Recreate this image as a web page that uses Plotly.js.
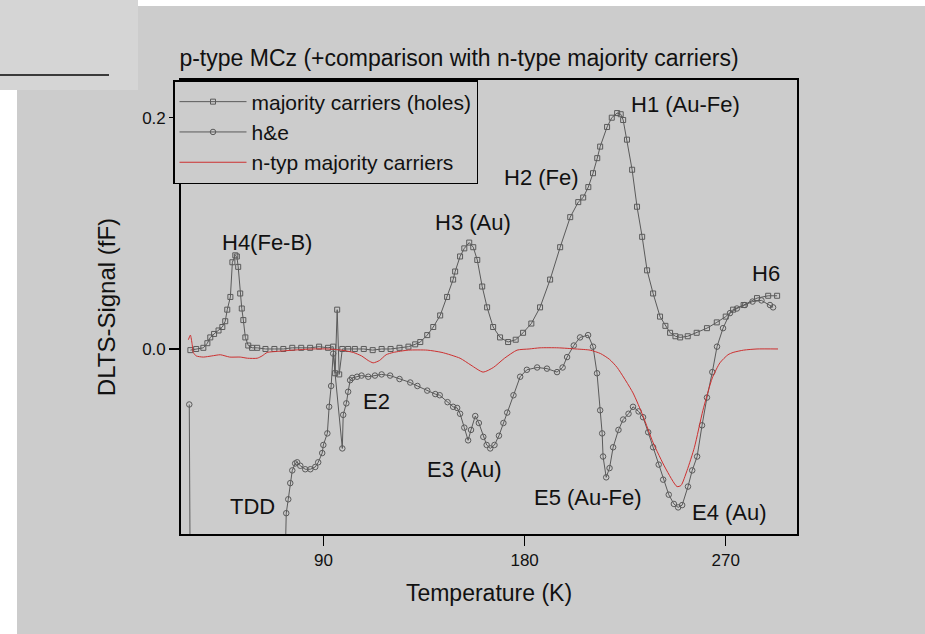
<!DOCTYPE html>
<html>
<head>
<meta charset="utf-8">
<script src="https://cdn.plot.ly/plotly-3.0.1.min.js"></script>
<style>html,body{margin:0;padding:0;background:#fff;}#chart{width:925px;height:634px;}</style>
</head>
<body>
<div id="chart"></div>
<script>
// Series: majority carriers (holes)
const holesT = [30.4,33,36.2,38,39.3,41,43,44.7,46,46.9,48.3,49.2,50.5,51.2,51.8,52.7,53.4,54.1,55.0,56.3,58,60.3,64,68,72,76,80,84,88,92,94.3,95.2,96.1,97.0,98.4,101,104,108,112,116,120,124,128,131,133.3,136.4,139.1,142.2,145.3,148.0,148.9,151.1,153,155.2,157,158.8,161.0,163.2,165.9,169,172.6,176,179.3,183,186.9,191.4,195.9,200.4,204,206.2,208.5,210.6,212.5,213.8,216.9,219,221.4,223,224.1,225.8,228.1,230.3,232.6,234.8,237.5,240.6,243,245.1,247.5,249.6,253,257,261.6,266,270,273.3,278,284.0,289,293.0];
const holesS = [-0.001,0.000,0.001,0.005,0.010,0.013,0.016,0.019,0.024,0.034,0.045,0.075,0.081,0.080,0.071,0.048,0.035,0.025,0.010,0.003,0.001,0.001,0.000,0.000,0.000,0.001,0.001,0.001,0.002,0.001,0.002,-0.021,0.034,-0.022,0.000,0.000,0.000,0.000,-0.001,0.000,0.000,0.001,0.002,0.004,0.006,0.012,0.019,0.029,0.045,0.060,0.067,0.080,0.087,0.092,0.088,0.077,0.054,0.036,0.019,0.010,0.006,0.008,0.014,0.022,0.036,0.060,0.088,0.114,0.127,0.131,0.140,0.152,0.165,0.175,0.192,0.200,0.204,0.203,0.198,0.181,0.155,0.123,0.097,0.068,0.048,0.028,0.020,0.014,0.011,0.010,0.011,0.014,0.018,0.023,0.028,0.034,0.038,0.044,0.046,0.046];

// Series: h&e
const heT = [29.9,30.6,72.4,73.3,74.2,75.1,76.0,77.3,78.2,79.6,81.8,84.1,86.3,87.6,89.4,89.9,91.7,92.5,93.4,94.3,98.4,98.8,100.2,101.0,101.9,102.8,105,107,110,113,116,119.8,124,128.8,132,136.4,140,142,145.5,148,149.8,151.1,153,154.7,156,157.9,159.5,161.5,163,164.6,166.5,168.5,170.5,172.2,175,178.0,181,185.6,190,194.5,197,199.0,202,204.8,208.4,210.6,212.4,213.8,214.7,215.1,216.5,218,219.6,222,224.1,226.5,228.5,231,233.0,235.3,237.5,240,242.0,244.5,246.8,248.7,250.5,253.1,255,257.2,259.4,261.6,264,266.1,268.8,271.9,275,278.6,282,286,289.8,291.2];
const heS = [-0.048,-0.30,-0.22,-0.142,-0.130,-0.116,-0.105,-0.099,-0.098,-0.101,-0.104,-0.104,-0.102,-0.098,-0.090,-0.083,-0.073,-0.050,-0.032,-0.004,-0.086,-0.057,-0.047,-0.037,-0.027,-0.025,-0.024,-0.023,-0.024,-0.023,-0.022,-0.023,-0.026,-0.029,-0.032,-0.036,-0.039,-0.040,-0.046,-0.050,-0.051,-0.056,-0.068,-0.079,-0.070,-0.058,-0.064,-0.076,-0.083,-0.086,-0.083,-0.075,-0.064,-0.055,-0.040,-0.024,-0.018,-0.016,-0.017,-0.020,-0.016,-0.007,0.003,0.010,0.012,0.002,-0.021,-0.053,-0.073,-0.093,-0.111,-0.103,-0.085,-0.070,-0.061,-0.056,-0.050,-0.054,-0.059,-0.072,-0.085,-0.100,-0.113,-0.126,-0.134,-0.137,-0.135,-0.119,-0.105,-0.093,-0.066,-0.042,-0.020,0.002,0.018,0.031,0.035,0.038,0.041,0.042,0.038,0.036];

// Series: n-typ majority carriers
const nT = [29.5,30.4,31.2,31.7,33,36.2,40,43.8,48,52.7,56,60.3,62.5,64.8,70,76.4,85,91.7,98,103.3,107,110,112.2,115,118,121.2,128,136.4,143,151.1,156,161.4,166,171,176.6,182,186.9,195,203,209.3,214,218,221.4,228.5,233,237.5,243,248.2,250,252.7,256,259.8,264,267.4,271,273.3,278,284,293.4];
const nS = [0.008,0.012,0.004,-0.003,-0.006,-0.007,-0.006,-0.005,-0.007,-0.007,-0.008,-0.008,-0.006,-0.003,-0.002,-0.001,0.000,0.000,-0.001,-0.003,-0.006,-0.010,-0.012,-0.010,-0.005,-0.003,-0.001,-0.001,-0.003,-0.008,-0.014,-0.020,-0.016,-0.008,-0.001,0.000,0.001,0.001,0.000,-0.001,-0.004,-0.009,-0.016,-0.038,-0.058,-0.081,-0.103,-0.119,-0.118,-0.105,-0.085,-0.053,-0.025,-0.012,-0.005,-0.003,-0.001,0.000,0.000];

const seriesNames = ["majority carriers (holes)", "h&e", "n-typ majority carriers"];
const xTicks = [90, 180, 270];
const yTicks = [0.0, 0.2];
const yTickText = ["0.0", "0.2"];

const peakLabels = ["H4(Fe-B)", "H3 (Au)", "H2 (Fe)", "H1 (Au-Fe)", "H6", "E2", "E3 (Au)", "E5 (Au-Fe)", "E4 (Au)", "TDD"];
const peakLabelT = [64.6, 157.0, 187.4, 251.8, 288.0, 113.6, 153.0, 208.4, 271.9, 58.3];
const peakLabelS = [0.0917, 0.1098, 0.1479, 0.2110, 0.0657, -0.0458, -0.1038, -0.1280, -0.1418, -0.1366];

const FONT = "Liberation Sans, Arial, Helvetica, sans-serif";
const grey = "#5a5a5a";

const traces = [
  {x: holesT, y: holesS, name: seriesNames[0], type: "scatter", mode: "lines+markers",
   line: {color: grey, width: 1},
   marker: {symbol: "square-open", size: 5, color: grey, line: {color: grey, width: 1}}},
  {x: heT, y: heS, name: seriesNames[1], type: "scatter", mode: "lines+markers",
   line: {color: grey, width: 1},
   marker: {symbol: "circle-open", size: 5.5, color: grey, line: {color: grey, width: 1}}},
  {x: nT, y: nS, name: seriesNames[2], type: "scatter", mode: "lines",
   line: {color: "#cc3030", width: 1, shape: "spline", smoothing: 0.6}}
];

const annotations = peakLabels.map((t, i) => ({
  text: t, x: peakLabelT[i], y: peakLabelS[i], xref: "x", yref: "y",
  showarrow: false, xanchor: "center", yanchor: "middle",
  font: {family: FONT, size: 22, color: "#111"}
}));

const W = 616, H = 454, L = 181, T = 80;
const px = v => (v - L) / W;
const py = v => (T + H - v) / H;

const shapes = [
  {type: "rect", xref: "paper", yref: "paper", x0: px(0), x1: px(925), y0: py(6), y1: py(0), fillcolor: "#ffffff", line: {width: 0}, layer: "below"},
  {type: "rect", xref: "paper", yref: "paper", x0: px(0), x1: px(17), y0: py(634), y1: py(0), fillcolor: "#ffffff", line: {width: 0}, layer: "below"},
  {type: "rect", xref: "paper", yref: "paper", x0: px(0), x1: px(138), y0: py(90), y1: py(0), fillcolor: "#d5d5d5", line: {width: 0}, layer: "below"},
  {type: "line", xref: "paper", yref: "paper", x0: px(0), x1: px(109), y0: py(75), y1: py(75), line: {color: "#3a3a3a", width: 2}, layer: "below"}
];

const layout = {
  width: 925, height: 634,
  margin: {l: L, r: 925 - L - W, t: T, b: 634 - T - H, pad: 0},
  paper_bgcolor: "#cccccc", plot_bgcolor: "#cccccc",
  font: {family: FONT, color: "#111"},
  title: {text: "p-type MCz (+comparison with n-type majority carriers)",
          font: {family: FONT, size: 23, color: "#111"},
          xref: "paper", x: px(459), xanchor: "center",
          yref: "container", y: 1 - 58 / 634, yanchor: "middle"},
  xaxis: {range: [26.2, 301.9], tickvals: xTicks, ticktext: xTicks.map(String),
          showgrid: false, zeroline: false, showline: true, mirror: true,
          linecolor: "#000", linewidth: 1.8, ticks: "outside", ticklen: 10, tickwidth: 1.5, tickcolor: "#000",
          tickfont: {family: FONT, size: 17, color: "#111"},
          title: {text: "Temperature (K)", font: {family: FONT, size: 23, color: "#111"}, standoff: 16}},
  yaxis: {range: [-0.16, 0.2326], tickvals: yTicks, ticktext: yTickText,
          showgrid: false, zeroline: false, showline: true, mirror: true,
          linecolor: "#000", linewidth: 1.8, ticks: "outside", ticklen: 10, tickwidth: 1.5, tickcolor: "#000",
          tickfont: {family: FONT, size: 17, color: "#111"},
          title: {text: "DLTS-Signal (fF)", font: {family: FONT, size: 24, color: "#111"}, standoff: 20}},
  legend: {x: px(173), y: 1, xanchor: "left", yanchor: "top", xref: "paper", yref: "paper",
           bgcolor: "#cccccc", bordercolor: "#000", borderwidth: 1.5,
           font: {family: FONT, size: 21, color: "#111"}, itemwidth: 67, tracegroupgap: 0},
  showlegend: true,
  annotations: annotations,
  shapes: shapes
};

Plotly.newPlot("chart", traces, layout, {displayModeBar: false, staticPlot: true});
</script>
</body>
</html>
